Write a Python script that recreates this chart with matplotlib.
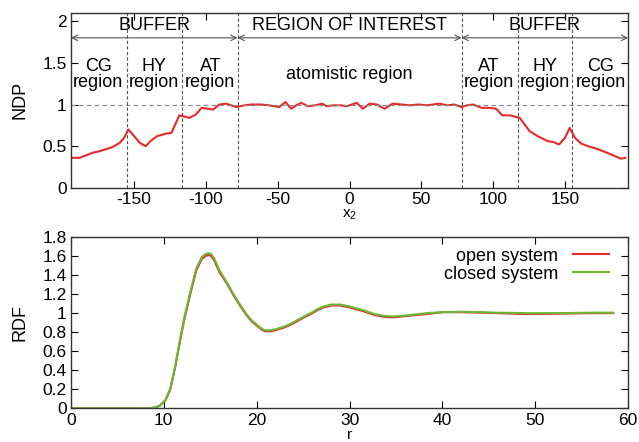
import matplotlib.pyplot as plt

plt.rcParams['font.family'] = ['Liberation Sans', 'DejaVu Sans']
plt.rcParams['axes.unicode_minus'] = False

# NDP along x2
ndp_x = [-193, -188, -179, -174, -165, -160, -157, -154, -146, -142, -138, -134, -128, -124,
         -118.5, -111.5, -107, -103, -95, -90.6, -86, -79, -73, -68.5, -62, -56, -49, -44.6, -40.7,
         -37, -33.7, -29, -24, -19, -16, -11, -6, -2, 0, 4.9, 9.3, 14, 19, 24.4, 30, 36, 42,
         48, 54, 58, 62.7, 68, 73, 77.8, 82, 86, 91.8, 97, 102, 106.4, 111.5, 118.5, 125.4,
         131, 138, 142, 145.9, 150, 153.3, 157, 161.4, 166, 172, 178, 183.5, 189, 192]
ndp_y = [0.36, 0.36, 0.42, 0.44, 0.49, 0.54, 0.60, 0.70, 0.54, 0.50, 0.57, 0.62, 0.65, 0.66,
         0.87, 0.84, 0.88, 0.96, 0.94, 1.00, 1.01, 0.97, 0.99, 1.00, 1.00, 0.99, 0.97, 1.03, 0.95,
         0.99, 1.02, 0.98, 0.99, 1.01, 0.98, 0.99, 0.99, 0.98, 0.99, 1.02, 0.95, 1.01, 1.00, 0.95, 1.01, 1.00, 0.99,
         1.00, 0.99, 1.00, 1.01, 0.99, 1.00, 0.97, 0.99, 1.00, 0.96, 0.96, 0.95, 0.87, 0.87, 0.84, 0.68,
         0.62, 0.56, 0.55, 0.52, 0.60, 0.72, 0.60, 0.53, 0.50, 0.47, 0.43, 0.39, 0.35, 0.36]

region_bounds = [-155, -117, -78, 78, 117, 155]

# RDF
r_open = [0, 5, 8, 8.6, 9.1, 9.6, 10.2, 10.7, 11.2, 11.7, 12.2, 12.8, 13.5, 14.1, 14.5, 14.8, 15.1,
          15.4, 16.0, 16.8, 17.5, 18.2, 18.9, 19.5, 20.0, 20.5, 20.9, 21.5, 22.0, 23.0, 23.9, 25.0,
          26.0, 26.5, 27.2, 28.0, 29.0, 30.0, 31.5, 32.7, 33.8, 34.7, 36.1, 38.3, 40.0, 42.2, 45.8,
          49.0, 53.0, 56.0, 58.4]
g_open = [0, 0, 0.0, 0.003, 0.01, 0.03, 0.09, 0.20, 0.42, 0.68, 0.93, 1.18, 1.45, 1.57, 1.60, 1.61, 1.60,
          1.56, 1.43, 1.31, 1.19, 1.08, 0.98, 0.91, 0.87, 0.83, 0.81, 0.81, 0.82, 0.85, 0.89, 0.95,
          1.00, 1.03, 1.06, 1.08, 1.08, 1.06, 1.02, 0.98, 0.96, 0.955, 0.97, 0.99, 1.01, 1.01, 1.0,
          0.99, 0.995, 1.0, 1.0]
r_closed = [0, 5, 8, 8.6, 9.1, 9.6, 10.2, 10.7, 11.2, 11.7, 12.2, 12.8, 13.5, 14.1, 14.5, 14.8, 15.1,
            15.4, 16.0, 16.8, 17.5, 18.2, 18.9, 19.5, 20.0, 20.5, 20.9, 21.5, 22.0, 23.0, 23.9, 25.0,
            26.0, 26.5, 27.2, 28.0, 29.0, 30.0, 31.5, 32.7, 33.8, 34.7, 36.1, 38.3, 40.0, 42.2, 45.8,
            49.0, 53.0, 56.0, 58.4]
g_closed = [0, 0, 0.0, 0.003, 0.01, 0.03, 0.09, 0.21, 0.43, 0.70, 0.95, 1.20, 1.47, 1.59, 1.62, 1.63, 1.62,
            1.58, 1.45, 1.32, 1.20, 1.09, 0.99, 0.92, 0.88, 0.84, 0.82, 0.82, 0.83, 0.86, 0.90, 0.96,
            1.01, 1.04, 1.07, 1.09, 1.09, 1.07, 1.03, 0.99, 0.97, 0.965, 0.975, 1.0, 1.01, 1.015, 1.005,
            1.0, 1.0, 1.005, 1.005]

red = '#e82a2a'
green = '#6cb835'
fs = 13
tfs = 12.5

fig = plt.figure(figsize=(6.39, 4.42), dpi=100)
ax1 = fig.add_axes([0.111, 0.575, 0.872, 0.396])
ax2 = fig.add_axes([0.111, 0.076, 0.872, 0.388])

# top panel
ax1.plot(ndp_x, ndp_y, color=red, lw=1.5)
ax1.axhline(1.0, color='#888888', lw=0.8, ls=(0, (4, 3)))
for b in region_bounds:
    ax1.axvline(b, color='#555555', lw=0.8, ls=(0, (3, 2)))
for x0, x1 in [(-194, -78), (-78, 78), (78, 194)]:
    ax1.annotate('', xy=(x0, 1.8), xytext=(x1, 1.8),
                 arrowprops=dict(arrowstyle='<->', color='#555555', lw=0.8, shrinkA=0, shrinkB=0))
ax1.text(-136, 1.95, 'BUFFER', ha='center', va='center', fontsize=fs)
ax1.text(0, 1.95, 'REGION OF INTEREST', ha='center', va='center', fontsize=fs)
ax1.text(136, 1.95, 'BUFFER', ha='center', va='center', fontsize=fs)
for xc, lab in [(-175, 'CG'), (-136, 'HY'), (-97, 'AT'), (97, 'AT'), (136, 'HY'), (175, 'CG')]:
    ax1.text(xc, 1.36, lab + '\nregion', ha='center', va='center', fontsize=fs, linespacing=0.9)
ax1.text(0, 1.36, 'atomistic region', ha='center', va='center', fontsize=fs)
ax1.set_xlim(-194, 194)
ax1.set_ylim(0, 2.1)
ax1.set_xticks([-150, -100, -50, 0, 50, 100, 150])
ax1.set_yticks([0, 0.5, 1, 1.5, 2])
ax1.set_yticklabels(['0', '0.5', '1', '1.5', '2'])
ax1.set_ylabel('NDP', fontsize=fs, labelpad=10)
ax1.set_xlabel(r'x$_{\mathregular{2}}$', fontsize=11, labelpad=0)

# bottom panel
ax2.plot(r_open, g_open, color=red, lw=1.5, label='open system')
ax2.plot(r_closed, g_closed, color=green, lw=1.5, label='closed system')
ax2.set_xlim(0, 60)
ax2.set_ylim(0, 1.8)
ax2.set_xticks(range(0, 61, 10))
ax2.set_yticks([0, 0.2, 0.4, 0.6, 0.8, 1, 1.2, 1.4, 1.6, 1.8])
ax2.set_yticklabels(['0', '0.2', '0.4', '0.6', '0.8', '1', '1.2', '1.4', '1.6', '1.8'])
ax2.set_ylabel('RDF', fontsize=fs, labelpad=10)
ax2.set_xlabel('r', fontsize=11, labelpad=0)
ax2.legend(loc='upper right', frameon=False, markerfirst=False, fontsize=fs,
           handlelength=2.0, borderaxespad=0.2, labelspacing=0.05, bbox_to_anchor=(0.985, 1.0))

for ax in (ax1, ax2):
    ax.tick_params(direction='in', top=True, right=True, labelsize=tfs, length=5, width=0.8, pad=3)
    for s in ax.spines.values():
        s.set_color('#333333')
        s.set_linewidth(1.0)

fig.savefig('out.png', dpi=100)
